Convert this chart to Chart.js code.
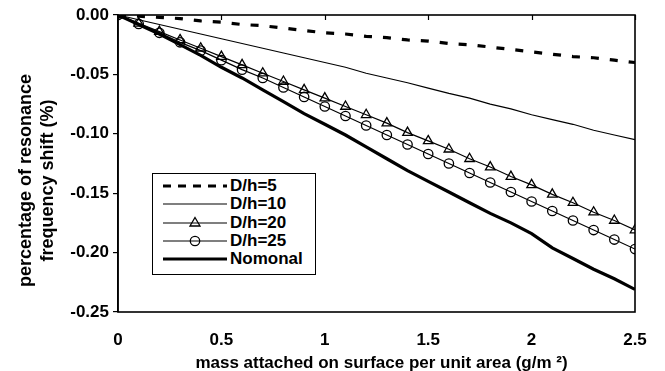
<!DOCTYPE html>
<html>
<head>
<meta charset="utf-8">
<script src="https://cdn.jsdelivr.net/npm/chart.js@4.4.1/dist/chart.umd.min.js"></script>
<style>
  html, body { margin: 0; padding: 0; background: #fff; }
  #wrap { position: relative; width: 665px; height: 371px; }
  #c { position: absolute; left: 0; top: 0; }
  #legend {
    position: absolute; left: 152px; top: 173px; width: 164px; height: 102px;
    border: 1px solid #000; background: #fff;
    font-family: "Liberation Sans", Arial, sans-serif; font-weight: bold; font-size: 17px;
    box-sizing: border-box; padding-top: 3px;
  }
  .row { height: 18.3px; display: flex; align-items: center; }
  .row svg { margin-left: 10px; margin-right: 3px; flex: none; }
  .row span { line-height: 18px; }
</style>
</head>
<body>
<div id="wrap">
  <canvas id="c" width="665" height="371"></canvas>
  <div id="legend"></div>
</div>
<script>
// ---- data ----
const massValues = [0, 0.1, 0.2, 0.3, 0.4, 0.5, 0.6, 0.7, 0.8, 0.9, 1.0, 1.1, 1.2, 1.3, 1.4, 1.5, 1.6, 1.7, 1.8, 1.9, 2.0, 2.1, 2.2, 2.3, 2.4, 2.5];
const seriesNames = ["D/h=5", "D/h=10", "D/h=20", "D/h=25", "Nomonal"];
const dh5 = [0, -0.001, -0.002, -0.003, -0.005, -0.006, -0.008, -0.009, -0.011, -0.013, -0.015, -0.016, -0.018, -0.019, -0.021, -0.022, -0.024, -0.025, -0.027, -0.029, -0.031, -0.033, -0.035, -0.036, -0.038, -0.040];
const dh10 = [0, -0.004, -0.008, -0.012, -0.016, -0.020, -0.024, -0.028, -0.032, -0.036, -0.040, -0.044, -0.049, -0.053, -0.057, -0.0615, -0.066, -0.070, -0.075, -0.079, -0.084, -0.088, -0.092, -0.097, -0.101, -0.105];
const dh20 = [0, -0.007, -0.014, -0.021, -0.028, -0.035, -0.042, -0.049, -0.056, -0.063, -0.070, -0.077, -0.084, -0.091, -0.099, -0.106, -0.113, -0.121, -0.128, -0.136, -0.143, -0.151, -0.158, -0.166, -0.173, -0.181];
const dh25 = [0, -0.0075, -0.015, -0.023, -0.030, -0.038, -0.046, -0.053, -0.061, -0.069, -0.077, -0.085, -0.093, -0.101, -0.109, -0.117, -0.125, -0.133, -0.141, -0.149, -0.157, -0.165, -0.173, -0.181, -0.189, -0.197];
const nomonal = [0, -0.008, -0.016, -0.025, -0.034, -0.044, -0.053, -0.063, -0.073, -0.083, -0.092, -0.101, -0.111, -0.121, -0.131, -0.140, -0.149, -0.158, -0.167, -0.175, -0.184, -0.196, -0.205, -0.214, -0.222, -0.231];
const xTicks = [0, 0.5, 1, 1.5, 2, 2.5];
const yTicks = [0, -0.05, -0.10, -0.15, -0.20, -0.25];
const xTitle = "mass attached on surface per unit area (g/m \u00B2)";
const yTitle = ["percentage of resonance", "frequency shift (%)"];

const FONT = "'Liberation Sans', Arial, sans-serif";
const pts = arr => arr.map((v, i) => ({ x: massValues[i], y: v }));

const datasets = [
  { label: seriesNames[0], data: pts(dh5), borderColor: '#000', borderWidth: 3.2, borderDash: [8, 11], pointRadius: 0, tension: 0 },
  { label: seriesNames[1], data: pts(dh10), borderColor: '#000', borderWidth: 1.2, pointRadius: 0, tension: 0 },
  { label: seriesNames[2], data: pts(dh20), borderColor: '#000', borderWidth: 1.2, pointStyle: 'triangle', pointRadius: 5.5, pointBorderWidth: 1.3, pointBackgroundColor: 'rgba(0,0,0,0)', pointBorderColor: '#000', tension: 0 },
  { label: seriesNames[3], data: pts(dh25), borderColor: '#000', borderWidth: 1.2, pointStyle: 'circle', pointRadius: 4.7, pointBorderWidth: 1.3, pointBackgroundColor: 'rgba(0,0,0,0)', pointBorderColor: '#000', tension: 0 },
  { label: seriesNames[4], data: pts(nomonal), borderColor: '#000', borderWidth: 3.2, pointRadius: 0, tension: 0 }
];

const framePlugin = {
  id: 'frame',
  afterDatasetsDraw(chart) {
    const { ctx, chartArea: a, scales } = chart;
    ctx.save();
    ctx.strokeStyle = '#000';
    ctx.lineWidth = 1.6;
    ctx.strokeRect(a.left, a.top, a.right - a.left, a.bottom - a.top);
    ctx.lineWidth = 1.2;
    xTicks.forEach(t => {
      const px = Math.round(scales.x.getPixelForValue(t)) + 0.5;
      ctx.beginPath(); ctx.moveTo(px, a.top); ctx.lineTo(px, a.top + 5); ctx.stroke();
    });
    // axis titles
    ctx.fillStyle = '#000';
    ctx.textAlign = 'center';
    ctx.textBaseline = 'middle';
    ctx.font = "bold 17px " + FONT;
    ctx.fillText(xTitle, (a.left + a.right) / 2 + 5, 363);
    ctx.font = "bold 18px " + FONT;
    const cy = (a.top + a.bottom) / 2 + 17;
    [[26, yTitle[0]], [48, yTitle[1]]].forEach(([x, t]) => {
      ctx.save();
      ctx.translate(x, cy);
      ctx.rotate(-Math.PI / 2);
      ctx.fillText(t, 0, 0);
      ctx.restore();
    });
    ctx.restore();
  }
};

new Chart(document.getElementById('c'), {
  type: 'line',
  data: { datasets },
  options: {
    responsive: false,
    animation: false,
    layout: { padding: { top: 15, right: 30, left: 0, bottom: 0 } },
    plugins: { legend: { display: false }, tooltip: { enabled: false } },
    scales: {
      x: {
        type: 'linear', min: 0, max: 2.5,
        afterBuildTicks: s => { s.ticks = xTicks.map(v => ({ value: v })); },
        ticks: { color: '#000', font: { family: FONT, weight: 'bold', size: 17 }, padding: 18, maxRotation: 0,
                 callback: v => String(v) },
        grid: { display: false, drawTicks: false },
        border: { display: false },
        title: { display: false },
        afterFit: s => { s.height = 59; }
      },
      y: {
        type: 'linear', min: -0.25, max: 0,
        afterBuildTicks: s => { s.ticks = yTicks.map(v => ({ value: v })); },
        ticks: { color: '#000', font: { family: FONT, weight: 'bold', size: 17 }, padding: 4,
                 callback: v => v.toFixed(2) },
        grid: { drawOnChartArea: false, drawTicks: true, tickLength: 5, color: '#000', lineWidth: 1.2 },
        border: { display: true, color: '#000', width: 1.6 },
        title: { display: false },
        afterFit: s => { s.width = 118; }
      }
    }
  },
  plugins: [framePlugin]
});

// ---- HTML legend ----
const legendEl = document.getElementById('legend');
function swatch(i) {
  const w = 64, h = 18, y = 9;
  let s = `<svg width="${w}" height="${h}" viewBox="0 0 ${w} ${h}">`;
  if (i === 0) s += `<line x1="0" y1="${y}" x2="${w}" y2="${y}" stroke="#000" stroke-width="3.2" stroke-dasharray="8 7"/>`;
  if (i === 1) s += `<line x1="0" y1="${y}" x2="${w}" y2="${y}" stroke="#000" stroke-width="1.2"/>`;
  if (i === 2) s += `<line x1="0" y1="${y}" x2="${w}" y2="${y}" stroke="#000" stroke-width="1.2"/><polygon points="32,3.5 37,12 27,12" fill="none" stroke="#000" stroke-width="1.3"/>`;
  if (i === 3) s += `<line x1="0" y1="${y}" x2="${w}" y2="${y}" stroke="#000" stroke-width="1.2"/><circle cx="32" cy="${y}" r="4.7" fill="none" stroke="#000" stroke-width="1.3"/>`;
  if (i === 4) s += `<line x1="0" y1="${y}" x2="${w}" y2="${y}" stroke="#000" stroke-width="3.2"/>`;
  return s + '</svg>';
}
seriesNames.forEach((n, i) => {
  const r = document.createElement('div');
  r.className = 'row';
  r.innerHTML = swatch(i) + `<span>${n}</span>`;
  legendEl.appendChild(r);
});
</script>
</body>
</html>
